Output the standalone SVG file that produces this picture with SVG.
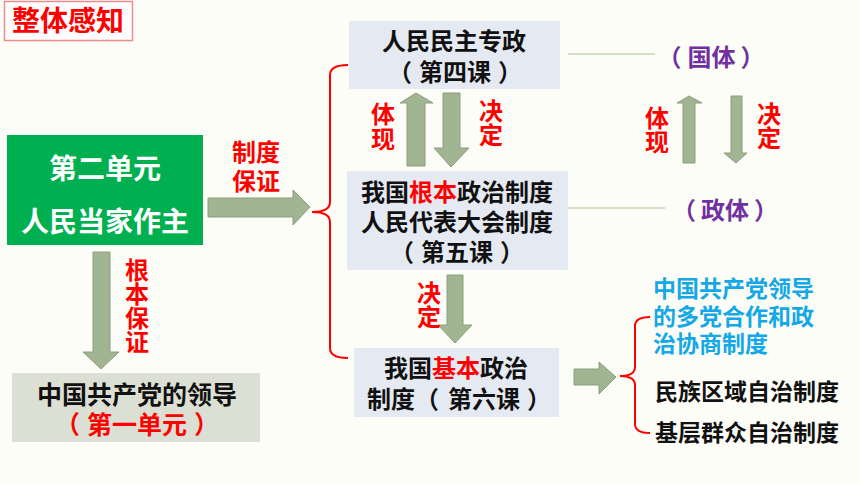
<svg xmlns="http://www.w3.org/2000/svg" width="860" height="484" viewBox="0 0 860 484">
<defs>
<style>
text{font-family:"Noto Sans CJK SC","Noto Sans",sans-serif;font-weight:bold;}
.v{writing-mode:tb;}
.arrow{fill:#a2b592;stroke:#8d9e7d;stroke-width:1;}
.box{fill:#e4e9f2;}
.red{fill:#ff0000;}
.blk{fill:#111111;}
.pur{fill:#7030a0;}
.blue{fill:#14a8e6;}
.brace{fill:none;stroke:#ff0000;stroke-width:2;}
.thin{fill:none;stroke:#c5d6b4;stroke-width:1.5;}
</style>
</defs>
<rect width="860" height="484" fill="#fdfdf8"/>

<g id="title">
<rect x="4.5" y="1.5" width="128" height="39" fill="#ffffff" stroke="#f08a8a" stroke-width="1.5"/>
<text x="68" y="31" font-size="28" text-anchor="middle" class="red">整体感知</text>
</g>

<g id="unit2">
<rect x="7" y="135" width="196" height="110" fill="#00b050"/>
<text x="105" y="179" font-size="28" text-anchor="middle" fill="#ffffff">第二单元<tspan x="105" dy="53">人民当家作主</tspan></text>
</g>

<g id="party">
<rect x="12" y="373" width="248" height="69" fill="#dcdfd4"/>
<text x="137" y="404" font-size="25" text-anchor="middle" class="blk">中国共产党的领导<tspan x="137" dy="30" class="red">（<tspan dx="7">第一单元</tspan><tspan dx="7">）</tspan></tspan></text>
</g>

<g id="box1">
<rect x="349" y="21" width="211" height="68" class="box"/>
<text x="454" y="50" font-size="24" text-anchor="middle" class="blk">人民民主专政<tspan x="455" dy="31">（<tspan dx="7">第四课</tspan><tspan dx="7">）</tspan></tspan></text>
</g>

<g id="box2">
<rect x="347" y="171" width="221" height="99" class="box"/>
<text x="457" y="201" font-size="24" text-anchor="middle" class="blk">我国<tspan class="red">根本</tspan>政治制度<tspan x="457" dy="30">人民代表大会制度</tspan><tspan x="457" dy="30">（<tspan dx="7">第五课</tspan><tspan dx="7">）</tspan></tspan></text>
</g>

<g id="box3">
<rect x="354" y="348" width="205" height="69" class="box"/>
<text x="456" y="377" font-size="24" text-anchor="middle" class="blk">我国<tspan class="red">基本</tspan>政治<tspan x="459" dy="31">制度（<tspan dx="9">第六课</tspan><tspan dx="7">）</tspan></tspan></text>
</g>

<g id="guoti">
<text x="711" y="66" font-size="24" text-anchor="middle" class="pur">（<tspan dx="6">国体</tspan><tspan dx="5">）</tspan></text>
</g>
<g id="zhengti">
<text x="725" y="219" font-size="24" text-anchor="middle" class="pur">（<tspan dx="5">政体</tspan><tspan dx="5">）</tspan></text>
</g>

<g id="systems">
<text x="653" y="297" font-size="23" class="blue">中国共产党领导<tspan x="653" dy="28">的多党合作和政</tspan><tspan x="653" dy="27">治协商制度</tspan></text>
<text x="655" y="400" font-size="23" class="blk">民族区域自治制度</text>
<text x="655" y="441" font-size="23" class="blk">基层群众自治制度</text>
</g>

<g id="connectors">
<polygon class="arrow" points="208,198 293,198 293,190 310,207 293,225 293,217 208,217"/>
<polygon class="arrow" points="93,252 110,252 110,352 119,352 101,369 83,352 93,352"/>
<polygon class="arrow" points="407,166 407,103 400,103 416,93 433,103 425,103 425,166"/>
<polygon class="arrow" points="443,93 460,93 460,148 469,148 451,167 434,148 443,148"/>
<polygon class="arrow" points="447,275 463,275 463,325 472,325 455,343 438,325 447,325"/>
<polygon class="arrow" points="574,369 599,369 599,362 616,377 599,394 599,385 574,385"/>
<polygon class="arrow" points="683,163 683,103 677,103 689,96 702,103 695,103 695,163"/>
<polygon class="arrow" points="731,96 742,96 742,153 747,153 736,163 724,153 731,153"/>

<path class="brace" d="M348,65 Q330,65 330,75 L330,202 Q330,212 312,212 Q330,212 330,222 L330,348 Q330,358 348,358"/>
<path class="brace" d="M650,317 Q635,317 635,326 L635,367 Q635,376 620,376 Q635,376 635,385 L635,424 Q635,433 650,433"/>

<path class="thin" d="M568,54 L655,54"/>
<path class="thin" d="M568,208 L665,208"/>

<text x="256" y="161" font-size="24" text-anchor="middle" class="red">制度<tspan x="256" dy="29">保证</tspan></text>

<text x="137" y="258" font-size="24" class="red v">根本保证</text>

<text x="383" y="102" font-size="24" letter-spacing="1" class="red v">体现</text>
<text x="491" y="99" font-size="24" class="red v">决定</text>

<text x="429" y="281" font-size="24" class="red v">决定</text>

<text x="657" y="106" font-size="24" class="red v">体现</text>
<text x="769" y="102" font-size="24" class="red v">决定</text>
</g>
</svg>
